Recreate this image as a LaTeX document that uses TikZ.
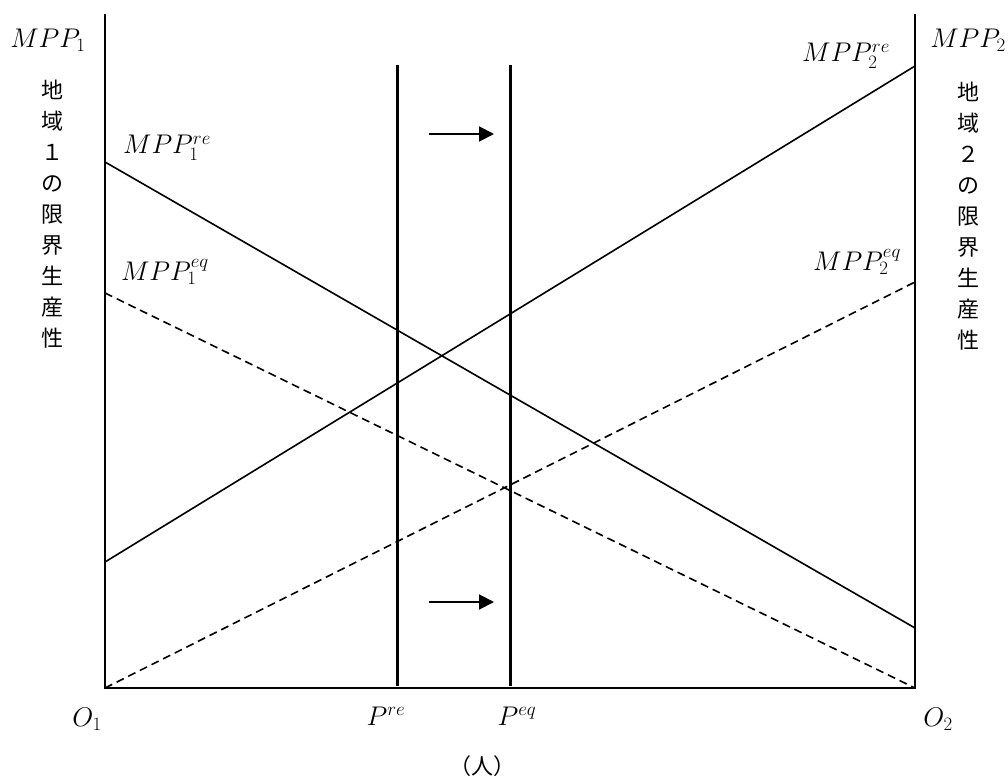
\RequirePackage{fix-cm}
\documentclass[tikz,border=0pt]{standalone}
\usepackage{fontspec}
\newfontfamily\cjk{Noto Sans CJK JP}
\usetikzlibrary{arrows.meta}
\begin{document}
\begin{tikzpicture}[x=1pt,y=-1pt,
  axis/.style={line width=1.7pt},
  curve/.style={line width=1.6pt},
  dcurve/.style={line width=1.6pt,dash pattern=on 8pt off 5pt},
  popline/.style={line width=3pt},
  shiftarrow/.style={line width=2pt,-{Triangle[length=15pt,width=15pt]}},
  lab/.style={font=\fontsize{27}{30}\selectfont,inner sep=0pt},
  vlab/.style={font=\cjk\fontsize{22}{31}\selectfont,align=center,inner sep=0pt,anchor=north}]
\useasboundingbox (0,0) rectangle (1008,778);
% axes
\coordinate (O1) at (105,688);
\coordinate (O2) at (915,688);
\coordinate (T1) at (105,14);
\coordinate (T2) at (915,14);
\draw[axis] (T1) -- (O1) -- (O2) -- (T2);
% curves
\coordinate (a1) at (105,162); \coordinate (b1) at (915,628);
\coordinate (a2) at (105,293);
\coordinate (a3) at (105,562); \coordinate (b3) at (915,66);
\coordinate (b4) at (915,282);
\draw[curve] (a1) -- (b1);
\draw[dcurve] (a2) -- (O2);
\draw[curve] (a3) -- (b3);
\draw[dcurve] (O1) -- (b4);
% population lines
\coordinate (pr1) at (397,65); \coordinate (pr2) at (397,686);
\coordinate (pe1) at (510,65); \coordinate (pe2) at (510,686);
\draw[popline] (pr1) -- (pr2);
\draw[popline] (pe1) -- (pe2);
% arrows
\coordinate (ar1) at (429,134); \coordinate (ar2) at (494,134);
\coordinate (ar3) at (429,602); \coordinate (ar4) at (494,602);
\draw[shiftarrow] (ar1) -- (ar2);
\draw[shiftarrow] (ar3) -- (ar4);
% labels
\node[lab] (l1) at (48,40) {$MPP_1$};
\node[lab] (l2) at (968,40) {$MPP_2$};
\node[lab] (l3) at (167,148) {$MPP_1^{re}$};
\node[lab] (l4) at (165,272) {$MPP_1^{eq}$};
\node[lab] (l5) at (846,56) {$MPP_2^{re}$};
\node[lab] (l6) at (857,262) {$MPP_2^{eq}$};
\node[lab] (o1) at (87,719) {$O_1$};
\node[lab] (o2) at (938,719) {$O_2$};
\node[lab] (p1) at (386,716) {$P^{re}$};
\node[lab] (p2) at (517,716) {$P^{eq}$};
\node[font=\cjk\fontsize{22}{24}\selectfont,inner sep=0pt] (ppl) at (482,766) {（人）};
\node[vlab] (v1) at (52,80) {地\\域\\１\\の\\限\\界\\生\\産\\性};
\node[vlab] (v2) at (968,82) {地\\域\\２\\の\\限\\界\\生\\産\\性};
\end{tikzpicture}
\end{document}
